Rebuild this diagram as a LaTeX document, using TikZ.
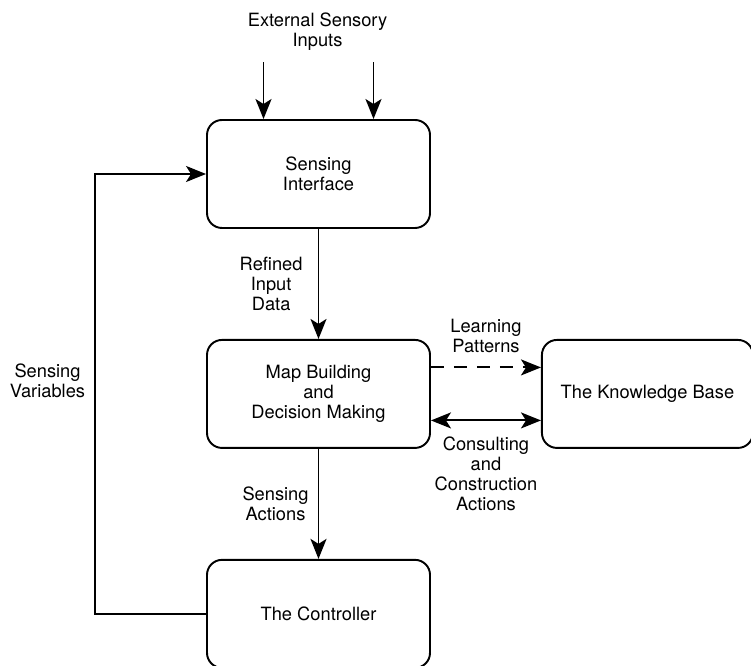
\documentclass[tikz,border=0pt]{standalone}
\usepackage{fontspec}
\setmainfont{TeX Gyre Heros}
\usetikzlibrary{arrows.meta}
\usetikzlibrary{calc}
\usetikzlibrary{positioning}

\begin{document}
\begin{tikzpicture}[>={Stealth[length=4mm,width=3.2mm,inset=1mm]}, node distance=2.2cm]
    \fontsize{10.4}{11.4}\selectfont

    % TikZ styles for drawing %%%%%%%%%%%%%%%%%%%%%%%%%%%%%%%%%%%%%%%%%%%%%%%%%%%%%%
    \tikzstyle{block} = [draw,rectangle,rounded corners=3mm,line width=1.1pt,minimum height=2.16cm,minimum width=4.46cm,align=center]
    \tikzstyle{txt} = [align=center,inner sep=0.1cm]
    \tikzstyle{connector} = [->,line width=1.1pt]
    \tikzstyle{dashedconn} = [->,line width=1.1pt,dash pattern=on 0.26cm off 0.2cm]

    \useasboundingbox (0,0) rectangle (15.02,-13.32);

    % Node placement %%%%%%%%%%%%%%%%%%%%%%%%%%%%%%%%%%%%%%%%%%%%%%%%%%%%%%%%%%%%%%%%%%%
    \node[block] (sense) at (6.37,-3.48) {Sensing\\Interface};
    \node[block] (map) [below=of sense] {Map Building\\and\\Decision Making};
    \node[block] (ctrl) [below=of map] {The Controller};
    \node[block, minimum width=4.22cm] (kb) [right=of map] {The Knowledge Base};
    \node[txt] (inputs) at (6.35,-0.64) {External Sensory\\Inputs};
    \coordinate (in1) at ($(sense.north)+(-1.1,1.14)$);
    \coordinate (in2) at ($(sense.north)+(1.1,1.14)$);

    % Now link the nodes %%%%%%%%%%%%%%%%%%%%%%%%%%%%%%%%%%%%%%%%%%%%%%%%%%%%%%%%%%%%%%%%
    \draw [connector] (in1) -- (in1 |- sense.north);
    \draw [connector] (in2) -- (in2 |- sense.north);
    \draw [connector] (sense) -- node[left=0.2cm, txt] {Refined\\Input\\Data} (map);
    \draw [connector] (map) -- node[left=0.08cm, txt] {Sensing\\Actions} (ctrl);
    \draw [dashedconn] ([yshift=0.53cm]map.east) -- node[above=0.18cm, txt] {Learning\\Patterns} ([yshift=0.53cm]kb.west);
    \draw [connector, <->] ([yshift=-0.53cm]map.east) -- node[below=0.2cm, txt] {Consulting\\and\\Construction\\Actions} ([yshift=-0.53cm]kb.west);
    \draw [connector] (ctrl.west) -- ++(-2.22,0) |- node[pos=0.265, left=0.08cm, txt] {Sensing\\Variables} (sense.west);

\end{tikzpicture}
\end{document}
